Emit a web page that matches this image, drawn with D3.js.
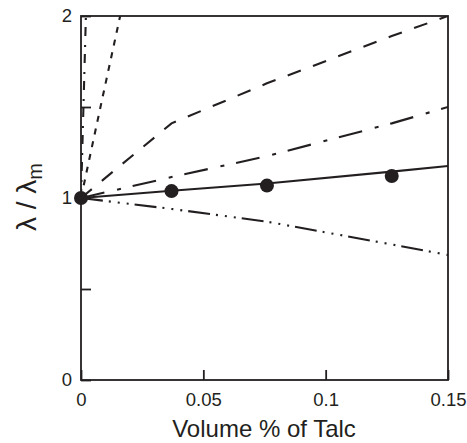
<!DOCTYPE html>
<html>
<head>
<meta charset="utf-8">
<script src="https://cdn.jsdelivr.net/npm/d3@7"></script>
<style>
  body { margin: 0; background: #fff; }
  svg { display: block; font-family: "Liberation Sans", Arial, sans-serif; }
</style>
</head>
<body>
<svg width="467" height="443"></svg>
<script>
// measured points
var dataX = [0, 0.037, 0.076, 0.127];
var dataY = [1.0, 1.038, 1.068, 1.121];

// model curves, read at the same compositions
var modelX = [0, 0.037, 0.076, 0.127, 0.15];
var solidY = [1.0, 1.04, 1.08, 1.145, 1.176];
var dashDotY = [1.0, 1.115, 1.23, 1.41, 1.50];
var longDashY = [1.0, 1.41, 1.63, 1.89, 2.0];
var dashDotsY = [1.0, 0.94, 0.87, 0.745, 0.687];

// the two steep curves near the y axis
var steepDashX = [0, 0.0086, 0.016];
var steepDashY = [1.0, 1.54, 2.0];
var steepDashDotX = [0, 0.002];
var steepDashDotY = [1.0, 2.0];

var xTicks = [0, 0.05, 0.1, 0.15];
var yTicks = [0, 0.5, 1, 1.5, 2];

var ink = "#231f20";
var svg = d3.select("svg");
var plotLeft = 81, plotRight = 448, plotTop = 16, plotBottom = 380;

var x = d3.scaleLinear().domain([0, 0.15]).range([plotLeft, plotRight]);
var y = d3.scaleLinear().domain([0, 2]).range([plotBottom, plotTop]);

svg.append("clipPath").attr("id", "plot")
  .append("rect")
  .attr("x", plotLeft).attr("y", plotTop)
  .attr("width", plotRight - plotLeft).attr("height", plotBottom - plotTop);

// axes with inward ticks
var xAxis = d3.axisBottom(x).tickValues(xTicks).tickSizeInner(-10).tickSizeOuter(0)
  .tickPadding(13).tickFormat(function (d) { return d === 0 ? "0" : String(d); });
var yAxis = d3.axisLeft(y).tickValues(yTicks).tickSizeInner(-10).tickSizeOuter(0)
  .tickPadding(9).tickFormat(function (d) { return d % 1 === 0 ? String(d) : ""; });

var gx = svg.append("g").attr("transform", "translate(0," + plotBottom + ")").call(xAxis);
var gy = svg.append("g").attr("transform", "translate(" + plotLeft + ",0)").call(yAxis);

[gx, gy].forEach(function (g) {
  g.attr("font-size", null).attr("font-family", null);
  g.selectAll("path").remove();
  g.selectAll("line").attr("stroke", ink).attr("stroke-width", 1.8);
  g.selectAll("text").attr("fill", ink).style("font-size", "18.5px");
});

var plot = svg.append("g").attr("clip-path", "url(#plot)");

var line = d3.line()
  .x(function (d) { return x(d[0]); })
  .y(function (d) { return y(d[1]); });

function curve(xs, ys, dash) {
  plot.append("path")
    .datum(d3.zip(xs, ys))
    .attr("d", line)
    .attr("fill", "none")
    .attr("stroke", ink)
    .attr("stroke-width", 2.1)
    .attr("stroke-dasharray", dash);
}

curve(steepDashDotX, steepDashDotY, "9,7,2,9");
curve(steepDashX, steepDashY, "6,7");
curve(modelX, longDashY, "14,13");
curve(modelX, dashDotY, "24,13,4,12");
curve(modelX, dashDotsY, "22,6,2,7,2,7,2,6");
curve(modelX, solidY, null);

svg.append("g").selectAll("circle")
  .data(d3.zip(dataX, dataY))
  .join("circle")
  .attr("cx", function (d) { return x(d[0]); })
  .attr("cy", function (d) { return y(d[1]); })
  .attr("r", 7)
  .attr("fill", ink);

// frame
svg.append("rect")
  .attr("x", plotLeft).attr("y", plotTop)
  .attr("width", plotRight - plotLeft).attr("height", plotBottom - plotTop)
  .attr("fill", "none").attr("stroke", ink).attr("stroke-width", 1.8);

// axis titles
svg.append("text")
  .attr("x", 264).attr("y", 437)
  .attr("text-anchor", "middle")
  .attr("fill", ink)
  .style("font-size", "24px")
  .text("Volume % of Talc");

var yt = svg.append("text")
  .attr("transform", "translate(36,197) rotate(-90)")
  .attr("text-anchor", "middle")
  .attr("fill", ink)
  .style("font-size", "28px");
yt.append("tspan").text("\u03bb / \u03bb");
yt.append("tspan").attr("dy", "0.3em").style("font-size", "20px").text("m");
</script>
</body>
</html>
